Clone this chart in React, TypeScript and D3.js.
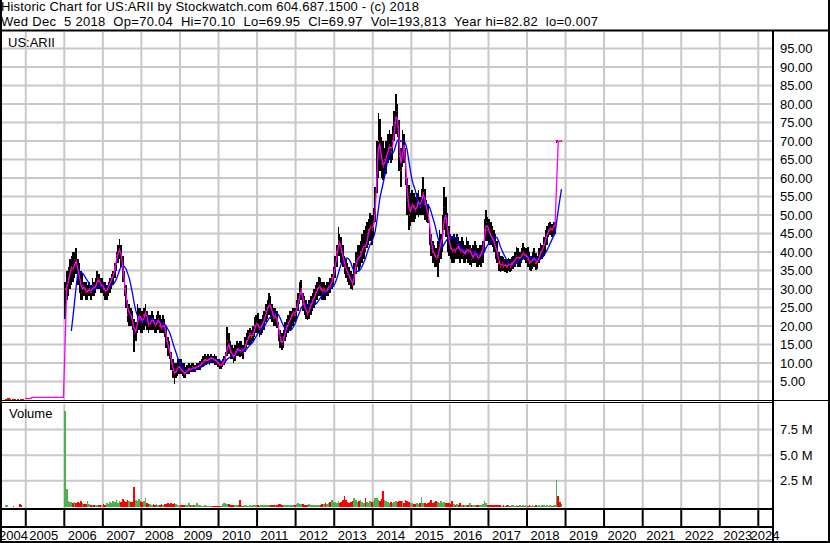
import * as d3 from 'd3';
import React from 'react';

// half-month bars, first one is the second half of June 2004
const FIRST_HALF_MONTH = 11;

const highs = [
    0.2, 0.25, 0.25, 0.2, 0.2, 0.18, 0.18, 0.18, 0.18, 0.15, 0.12, 0.12, // 2004
    0.35, 0.35, 0.35, 0.35, 0.7, 0.7, 0.7, 0.7, 0.7, 0.7, 0.7, 0.7, 0.7, 0.7, 0.7, 0.7, 0.7, 0.7, 0.7, 0.7, 0.7, 0.7, 0.7, 0.7, // 2005
    0.7, 32, 35, 36, 38, 39, 40, 40, 41, 38, 37, 35, 34, 32, 32, 31, 32, 31, 33, 32, 33, 35, 34, 33, // 2006
    33, 32, 32, 31, 32, 33, 34, 35, 37, 40, 42, 43.5, 42, 39, 35, 31, 27, 26, 25, 24, 22, 21, 26, 25, // 2007
    25, 24, 25, 26, 24, 23, 23, 24, 23, 22, 23, 24, 23, 22, 23, 22, 20, 17, 16, 13, 11, 10, 10, 11, // 2008
    11, 11, 10, 10, 9, 9.5, 10, 9.5, 10, 10, 9.5, 10, 10, 10.5, 11, 12, 12.5, 12, 12.5, 12, 12.5, 12, 12.5, 12, // 2009
    11, 11, 10.5, 11, 12, 13, 19.8, 18, 16, 15, 14, 15, 16, 15.5, 16, 16, 15, 17, 18, 19, 19.5, 19, 20, 22.5, // 2010
    23, 23.5, 22, 22, 23, 24, 26, 27, 29, 28, 26, 25, 25, 24, 21, 19, 18, 19, 21, 22, 23, 24, 24, 25, // 2011
    25, 27, 29, 32, 32.4, 29, 28, 27, 26, 27, 28, 29, 30, 31, 32, 33.3, 33, 32, 32, 31, 32, 32, 33, 34, // 2012
    36, 39, 42, 46.8, 45, 44, 42, 39, 38, 37, 36, 35, 34, 37, 40, 42, 42, 43, 45, 46, 47, 48, 49, 50.5, // 2013
    50, 52, 57.6, 70, 77.5, 76, 71, 70, 68, 70, 72, 73, 72, 74, 78, 82.8, 80, 75.6, 68, 73, 72, 68, 60, 58, // 2014
    56, 56.7, 56, 55, 56, 56.7, 55, 57, 60.3, 57, 54, 53, 48, 45, 43, 42, 41, 43, 46, 45, 50, 57.6, 55, 50.5, // 2015
    47, 45, 44, 45, 44, 45, 44, 43, 44, 43, 42, 44, 43, 42, 41, 42, 43, 42, 41, 42, 42, 43, 49, 51.3, // 2016
    49.5, 49, 48, 47, 46, 45, 43, 40, 39, 39, 38.7, 38, 38, 38.5, 38, 38.7, 39, 40, 41.4, 41, 40, 41, 42.3, 41.4, // 2017
    41, 41.4, 40, 39, 40, 41, 39.7, 39, 41, 42.3, 42, 44, 46, 47, 47.8, 48, 47.5, 48, 48, 70.1, 70.1, 70.05, 70.1, // 2018
];

const lows = [
    0.2, 0.25, 0.25, 0.2, 0.2, 0.18, 0.18, 0.18, 0.18, 0.15, 0.12, 0.12,
    0.35, 0.35, 0.35, 0.35, 0.7, 0.7, 0.7, 0.7, 0.7, 0.7, 0.7, 0.7, 0.7, 0.7, 0.7, 0.7, 0.7, 0.7, 0.7, 0.7, 0.7, 0.7, 0.7, 0.7,
    0.7, 22, 27, 28, 30, 31, 32, 33, 34, 31, 29, 27, 27, 28, 27, 27, 28, 27, 28, 28, 29, 30, 30, 29,
    29, 28, 27, 27, 28, 29, 30, 31, 33, 35, 37, 38, 36, 32, 28, 25, 21, 20, 20, 19, 13, 16, 18, 19,
    18, 18, 19, 20, 19, 18, 19, 19, 19, 18, 18, 19, 18, 18, 18, 17, 14, 12, 11, 8, 6, 4.3, 6, 6.5,
    7, 7, 6.5, 6, 6, 7, 7, 7.5, 7.5, 7.5, 7.5, 8, 8, 8, 9, 9, 9.5, 9.5, 10, 9.5, 10, 10, 9.5, 9.5,
    9, 8.5, 8.5, 9, 9.5, 10, 12, 12.5, 11, 11, 10, 10.5, 12, 12, 11.5, 12, 11, 13, 14, 15, 15, 15.5, 16, 17,
    18, 18, 17, 17.5, 18, 19, 21, 22, 23, 22, 21, 20, 20, 19.5, 16, 14, 13.5, 14, 16, 17, 18, 19, 19, 20,
    21, 22, 24, 26, 27, 24, 23, 22, 21.5, 22, 23, 24, 25, 26, 27, 28, 28, 27, 27, 27, 28, 28, 29, 30,
    31, 33, 36, 39, 39, 37, 36, 34, 33, 32, 31, 30, 29.7, 31, 34, 36, 35, 36, 37, 38, 40, 41, 42, 43,
    42, 44, 48, 56, 60, 62, 60, 59.4, 60, 61, 64, 65, 64, 65, 70, 72, 71, 62, 57.6, 63, 64, 58, 50, 46,
    47, 48, 48, 49, 50, 49.5, 50, 50, 50, 48.6, 48, 47.8, 42, 39, 37, 36, 36, 33.3, 37, 38, 40, 46, 44, 40,
    39, 38, 37, 37, 38, 38, 38, 37, 38, 37, 37, 38, 37, 36.5, 36, 37, 37, 36, 36, 36.5, 36, 37, 40, 43,
    43, 42, 42, 41.4, 40, 38, 37, 35, 34.7, 35, 35, 34.5, 34.2, 35, 34.5, 35, 35.5, 36, 37, 36, 36, 37, 38, 37.8,
    37, 36, 35.1, 35, 35.5, 36, 35.1, 35.5, 37, 37.8, 38, 39, 40, 42, 44, 44.5, 44, 44.5, 45, 69.5, 69.6, 69.7, 69.95,
];

const closes = [
    0.2, 0.25, 0.25, 0.2, 0.2, 0.18, 0.18, 0.18, 0.18, 0.15, 0.12, 0.12,
    0.35, 0.35, 0.35, 0.35, 0.7, 0.7, 0.7, 0.7, 0.7, 0.7, 0.7, 0.7, 0.7, 0.7, 0.7, 0.7, 0.7, 0.7, 0.7, 0.7, 0.7, 0.7, 0.7, 0.7,
    0.7, 30, 31, 33, 35, 36, 35, 38, 37, 34, 33, 29, 31, 30, 29, 29.5, 30, 29, 31, 30, 31, 33, 32, 31,
    31, 30, 29, 30, 31, 32, 33, 34, 36, 39, 40, 41, 38, 34, 30, 27, 23, 24, 22, 21, 18, 19, 22, 23,
    22, 21, 23, 24, 21, 20, 21, 22, 21, 20, 21, 22, 20, 19, 21, 19, 16, 14, 13, 10, 8, 7, 8, 9,
    9, 8, 7.8, 7, 7.5, 8, 8.5, 8, 9, 8.5, 8.7, 9, 9.2, 9.5, 10, 10.5, 11, 10.5, 11, 11.2, 11.5, 11, 10.8, 10.5,
    10, 9.5, 9.3, 10, 11, 12, 16, 14, 13, 12, 11.5, 13, 14, 13.5, 13, 14, 13, 15, 16, 17, 18, 17, 18, 20,
    21, 20, 19, 20, 21, 22, 24, 25, 26, 25, 23, 22, 23, 21, 18, 16, 15, 17, 19, 20, 21, 22, 23, 24,
    23, 25, 27, 29, 30, 26, 25, 24, 23, 25, 26, 27, 28, 29, 30, 31, 30, 29, 30, 29, 30, 31, 30.5, 33,
    34, 37, 40, 43, 42, 40, 38, 36, 35, 34, 33, 32, 31, 35, 37, 39, 38, 40, 41, 42, 41, 45, 46, 47,
    46, 48, 54, 66, 70, 68, 64, 63, 65, 66, 68, 69, 67, 70, 75, 78, 74, 66, 62, 70, 68, 60, 54, 50,
    52, 53, 52, 51, 53, 54, 52, 55, 56, 53, 51, 50, 45, 41, 40, 39, 38, 39, 42, 43, 45, 52, 48, 45,
    42, 41, 40, 41, 40, 42, 41, 40, 41, 39, 40, 41, 40, 41, 38, 39, 40, 39, 38, 39, 40, 41, 46, 48,
    46, 45, 44, 43.5, 42, 41, 39, 37, 36, 37, 36, 36.5, 36, 37, 36, 37, 37.5, 38, 39, 38, 38.5, 39, 40, 39,
    39, 38, 37, 37.5, 38, 38.5, 37, 37.5, 39, 40, 41, 42, 44, 45, 46, 46.5, 46, 47, 47.5, 69.98, 69.9, 69.85, 69.97,
];

// millions of shares
const volumes = [
    0.15, 0.1, 0, 0, 0, 0.05, 0, 0, 0, 0.2, 0.1, 0,
    0, 0, 0, 0, 0, 0, 0, 0, 0, 0, 0, 0, 0, 0, 0, 0, 0, 0, 0, 0, 0, 0, 0, 0,
    0, 9.3, 1.7, 0.5, 0.4, 0.45, 0.35, 0.4, 0.3, 0.45, 0.3, 0.5, 0.3, 0.25, 0.2, 0.5, 0.2, 0.15, 0.1, 0.1, 0.1, 0.1, 0.15, 0.1,
    0.1, 0.2, 0.15, 0.3, 0.25, 0.4, 0.3, 0.55, 0.4, 0.6, 0.35, 0.5, 0.45, 0.7, 0.5, 0.4, 0.6, 0.5, 0.4, 0.45, 1.9, 0.6, 0.5, 0.7,
    0.5, 0.4, 0.5, 0.85, 0.3, 0.2, 0.2, 0.15, 0.2, 0.15, 0.2, 0.15, 0.15, 0.2, 0.15, 0.2, 0.25, 0.3, 0.2, 0.3, 0.25, 0.35, 0.2, 0.15,
    0.15, 0.1, 0.1, 0.15, 0.1, 0.15, 0.35, 0.15, 0.1, 0.1, 0.1, 0.3, 0.1, 0.1, 0.05, 0.05, 0.1, 0.05, 0.05, 0.05, 0.05, 0.05, 0.05, 0.05,
    0.05, 0.05, 0.05, 0.2, 0.3, 0.35, 0.2, 0.2, 0.15, 0.1, 0.1, 0.1, 0.1, 0.1, 0.65, 0.1, 0.05, 0.1, 0.1, 0.05, 0.1, 0.05, 0.1, 0.1,
    0.1, 0.1, 0.05, 0.1, 0.1, 0.1, 0.15, 0.1, 0.15, 0.1, 0.1, 0.1, 0.1, 0.15, 0.25, 0.2, 0.15, 0.1, 0.1, 0.1, 0.1, 0.15, 0.1, 0.1,
    0.15, 0.2, 0.3, 0.2, 0.25, 0.2, 0.15, 0.1, 0.15, 0.2, 0.1, 0.1, 0.1, 0.15, 0.1, 0.15, 0.1, 0.2, 0.2, 0.3, 0.2, 0.3, 0.4, 0.6,
    0.4, 0.45, 0.3, 0.5, 0.3, 0.4, 0.6, 1.0, 0.6, 0.4, 0.3, 0.4, 0.5, 0.8, 0.6, 0.4, 0.5, 0.6, 0.4, 0.3, 0.8, 0.4, 0.3, 0.5,
    0.4, 0.5, 0.8, 0.8, 0.6, 0.5, 0.7, 1.5, 0.6, 0.5, 0.4, 0.3, 0.4, 0.3, 0.4, 0.5, 0.4, 0.5, 0.5, 0.5, 0.3, 0.6, 0.5, 0.4,
    0.3, 0.3, 0.2, 0.2, 0.3, 0.2, 0.3, 0.9, 0.3, 0.3, 0.2, 0.3, 0.4, 0.6, 0.3, 0.4, 0.5, 0.4, 0.3, 0.5, 0.3, 0.4, 0.3, 0.3,
    0.3, 0.2, 0.5, 0.2, 0.1, 0.2, 0.1, 0.3, 0.1, 0.1, 0.1, 0.1, 0.1, 0.35, 0.1, 0.1, 0.1, 0.1, 0.1, 0.1, 0.1, 0.2, 0.55, 0.3,
    0.15, 0.1, 0.1, 0.15, 0.1, 0.1, 0.15, 0.1, 0.1, 0.05, 0.1, 0.05, 0.1, 0.1, 0.05, 0.1, 0.1, 0.05, 0.1, 0.05, 0.1, 0.05, 0.1, 0.05,
    0.1, 0.05, 0.1, 0.05, 0.1, 0.05, 0.1, 0.05, 0.1, 0.05, 0.1, 0.1, 0.05, 0.1, 0.05, 0.1, 0.05, 0.1, 0.1, 2.6, 1.0, 0.4, 0.2,
];

const years = d3.range(2004, 2025);
const priceTicks = d3.range(5, 100, 5);
const volumeTicks = [2.5, 5, 7.5];

const titleLine = 'Historic Chart for US:ARII by Stockwatch.com 604.687.1500 - (c) 2018';
const quoteLine =
    'Wed Dec  5 2018  Op=70.04  Hi=70.10  Lo=69.95  Cl=69.97  Vol=193,813  Year hi=82.82  lo=0.007';

const PLOT_RIGHT = 773;
const FONT = "Arial, 'Liberation Sans', sans-serif";

function halfMonthStart(n: number): Date {
    return new Date(2004 + Math.floor(n / 24), Math.floor((n % 24) / 2), n % 2 ? 16 : 1);
}

function movingAverage(values: number[], n: number): number[] {
    return values.map((_, i) => d3.mean(values.slice(Math.max(0, i - n + 1), i + 1)) as number);
}

const App: React.FC = () => {
    const x = d3
        .scaleTime()
        .domain([new Date(2006, 0, 1), new Date(2024, 0, 1)])
        .range([64.3, 758.3]);
    const yPrice = d3.scaleLinear().domain([0, 100]).range([400, 30]);
    const yVol = d3.scaleLinear().domain([0, 10]).range([506.5, 403.8]);

    const fast = movingAverage(closes, 2);
    const slow = movingAverage(closes, 9);

    const bars = closes.map((close, i) => {
        const start = halfMonthStart(i + FIRST_HALF_MONTH);
        const end = halfMonthStart(i + FIRST_HALF_MONTH + 1);
        return {
            start,
            x0: x(start),
            w: x(end) - x(start),
            high: highs[i],
            low: lows[i],
            close,
            volume: volumes[i],
            change: i === 0 ? 1 : close - closes[i - 1],
            fast: fast[i],
            slow: slow[i],
        };
    });
    type Bar = (typeof bars)[number];

    const fastLine = d3
        .line<Bar>()
        .x((d) => d.x0 + d.w / 2)
        .y((d) => yPrice(d.fast));
    const slowLine = d3
        .line<Bar>()
        .x((d) => d.x0 + d.w / 2)
        .y((d) => yPrice(d.slow));

    const fastFrom = new Date(2005, 0, 1);
    const slowFrom = new Date(2006, 2, 1);

    const yearX = years.map((yr) => ({ yr, bx: x(new Date(yr, 0, 1)) }));
    const grid = '#c8c8c8';

    return (
        <svg
            width={830}
            height={543}
            style={{ position: 'absolute', left: 0, top: 0, background: '#fff' }}
            fontFamily={FONT}
        >
            <defs>
                <clipPath id="pricePanel">
                    <rect x={2} y={32} width={PLOT_RIGHT - 3} height={368} />
                </clipPath>
                <clipPath id="volPanel">
                    <rect x={2} y={404} width={PLOT_RIGHT - 3} height={104} />
                </clipPath>
                <clipPath id="labelRow">
                    <rect x={2} y={527} width={826} height={14} />
                </clipPath>
            </defs>

            <rect x={0} y={0} width={830} height={543} fill="#fff" />

            {/* header */}
            <text
                x={1}
                y={11}
                fontSize={13}
                textLength={418}
                lengthAdjust="spacing"
                style={{ whiteSpace: 'pre' }}
            >
                {titleLine}
            </text>
            <text
                x={1}
                y={26}
                fontSize={13}
                textLength={597}
                lengthAdjust="spacing"
                style={{ whiteSpace: 'pre' }}
            >
                {quoteLine}
            </text>

            {/* grid */}
            <g stroke={grid} strokeWidth={2}>
                {yearX
                    .filter((d) => d.bx > 2 && d.bx < PLOT_RIGHT)
                    .map((d) => (
                        <g key={d.yr}>
                            <line x1={d.bx} x2={d.bx} y1={32} y2={400} />
                            <line x1={d.bx} x2={d.bx} y1={404} y2={508} />
                        </g>
                    ))}
                {priceTicks.map((v) => (
                    <line key={v} x1={2} x2={PLOT_RIGHT} y1={yPrice(v)} y2={yPrice(v)} />
                ))}
                {volumeTicks.map((v) => (
                    <line key={v} x1={2} x2={PLOT_RIGHT} y1={yVol(v)} y2={yVol(v)} />
                ))}
            </g>

            <text x={8} y={47} fontSize={13}>
                US:ARII
            </text>
            <text x={9} y={418} fontSize={13}>
                Volume
            </text>

            {/* price bars */}
            <g clipPath="url(#pricePanel)" shapeRendering="crispEdges">
                {bars.map((d, i) => (
                    <g key={i}>
                        <rect
                            x={d.x0}
                            y={yPrice(d.high)}
                            width={d.w}
                            height={yPrice(d.low) - yPrice(d.high)}
                            fill="#000"
                        />
                        <rect
                            x={d.x0 + d.w * 0.3}
                            y={yPrice(d.close) - 0.7}
                            width={d.w * 0.8}
                            height={1.4}
                            fill="#ff0000"
                        />
                    </g>
                ))}
                <path
                    d={slowLine(bars.filter((d) => d.start >= slowFrom)) ?? ''}
                    fill="none"
                    stroke="#0000ff"
                    strokeWidth={1.3}
                    shapeRendering="auto"
                />
                <path
                    d={fastLine(bars.filter((d) => d.start >= fastFrom)) ?? ''}
                    fill="none"
                    stroke="#ff00ff"
                    strokeWidth={1.3}
                    shapeRendering="auto"
                />
            </g>

            {/* volume bars */}
            <g clipPath="url(#volPanel)" shapeRendering="crispEdges">
                {bars
                    .filter((d) => d.volume > 0)
                    .map((d, i) => (
                        <rect
                            key={i}
                            x={d.x0}
                            y={yVol(d.volume)}
                            width={d.w}
                            height={yVol(0) - yVol(d.volume)}
                            fill={d.change > 0 ? '#4cb24c' : d.change < 0 ? '#ff0000' : '#a0a0a0'}
                        />
                    ))}
            </g>

            {/* frame */}
            <g stroke="#000" fill="none">
                <line x1={0} x2={830} y1={30.5} y2={30.5} strokeWidth={2} />
                <line x1={0} x2={PLOT_RIGHT} y1={400.5} y2={400.5} strokeWidth={1} />
                <line x1={0} x2={PLOT_RIGHT} y1={402.5} y2={402.5} strokeWidth={1} />
                <line x1={PLOT_RIGHT} x2={830} y1={400.5} y2={400.5} strokeWidth={1} />
                <line x1={0} x2={PLOT_RIGHT} y1={509} y2={509} strokeWidth={2} />
                <line x1={0} x2={PLOT_RIGHT} y1={527} y2={527} strokeWidth={2} />
                {yearX
                    .filter((d) => d.bx > 2 && d.bx < PLOT_RIGHT)
                    .map((d) => (
                        <line key={d.yr} x1={d.bx} x2={d.bx} y1={509} y2={527} strokeWidth={2} />
                    ))}
            </g>

            {/* year labels */}
            <g fontSize={13} clipPath="url(#labelRow)">
                {yearX.map((d) => (
                    <text key={d.yr} x={Math.max(-1, Math.min(d.bx + 3.5, 750.5))} y={539.5}>
                        {d.yr}
                    </text>
                ))}
            </g>

            {/* right axis */}
            <g fontSize={13} fill="#000">
                {priceTicks.map((v) => (
                    <text key={v} x={780} y={yPrice(v)} dy="0.35em">
                        {v.toFixed(2)}
                    </text>
                ))}
                {volumeTicks.map((v) => (
                    <text key={v} x={780} y={yVol(v)} dy="0.35em">
                        {`${v.toFixed(1)} M`}
                    </text>
                ))}
            </g>

            <g stroke="#000" fill="none">
                <line x1={PLOT_RIGHT} x2={PLOT_RIGHT} y1={30} y2={543} strokeWidth={2} />
                <line x1={1} x2={1} y1={0} y2={543} strokeWidth={2} />
                <line x1={829} x2={829} y1={0} y2={543} strokeWidth={2} />
                <line x1={0} x2={830} y1={542} y2={542} strokeWidth={2} />
            </g>
        </svg>
    );
};

export default App;
